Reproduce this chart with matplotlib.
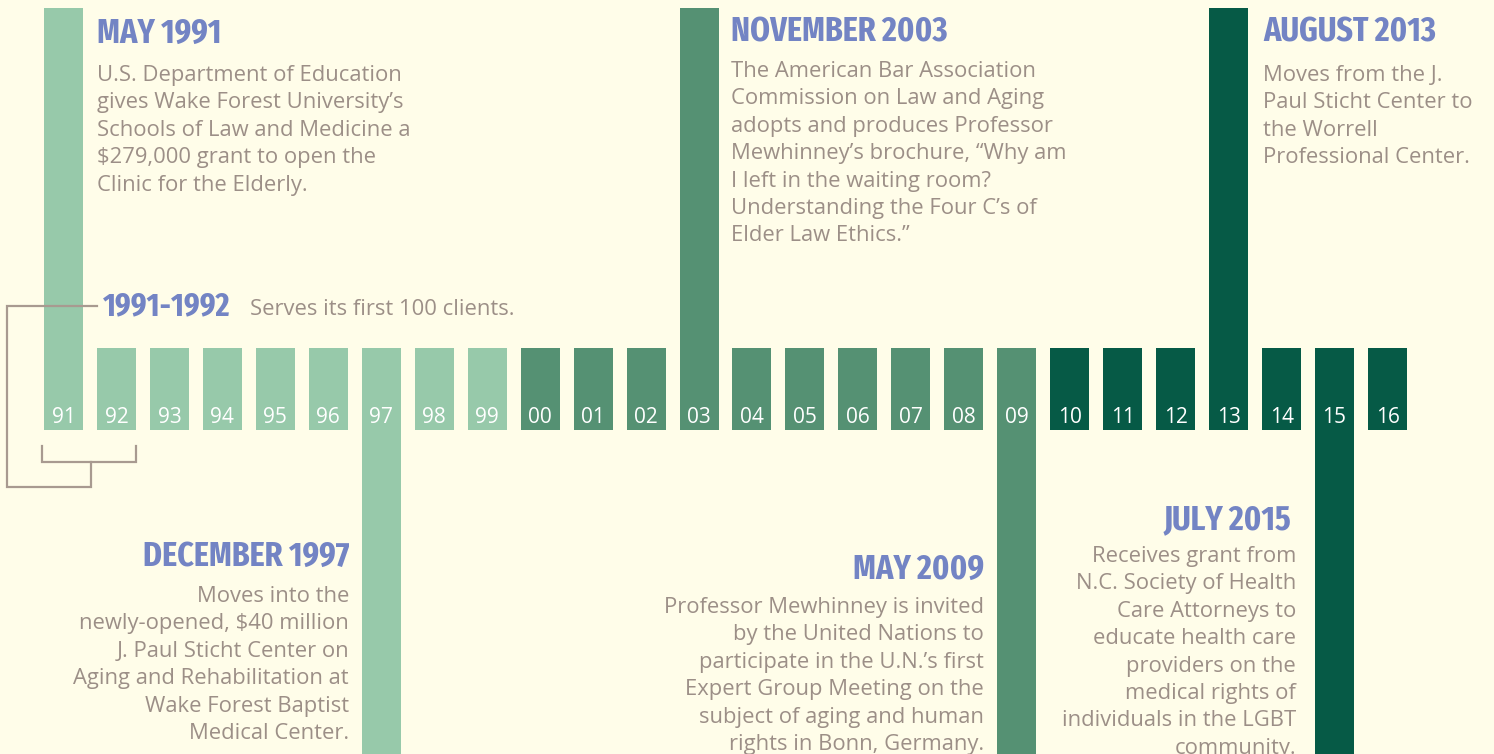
import matplotlib
matplotlib.use("Agg")
import matplotlib.pyplot as plt
from matplotlib import font_manager as fm

# years shown on the timeline
years = ["91", "92", "93", "94", "95", "96", "97", "98", "99",
         "00", "01", "02", "03", "04", "05", "06", "07", "08", "09",
         "10", "11", "12", "13", "14", "15", "16"]
# colour tier per year (0 = 90s, 1 = 00s, 2 = 10s)
tiers = [0] * 9 + [1] * 10 + [2] * 7
# bars that stretch up (+1) or down (-1) to an event
reach = [0] * 26
for yr in ["91", "03", "13"]:
    reach[years.index(yr)] = 1
for yr in ["97", "09", "15"]:
    reach[years.index(yr)] = -1

event_titles = ["MAY 1991", "NOVEMBER 2003", "AUGUST 2013",
                "DECEMBER 1997", "MAY 2009", "JULY 2015"]
event_texts = [
    ["U.S. Department of Education", "gives Wake Forest University\u2019s",
     "Schools of Law and Medicine a", "$279,000 grant to open the",
     "Clinic for the Elderly."],
    ["The American Bar Association", "Commission on Law and Aging",
     "adopts and produces Professor", "Mewhinney\u2019s brochure, \u201cWhy am",
     "I left in the waiting room?", "Understanding the Four C\u2019s of",
     "Elder Law Ethics.\u201d"],
    ["Moves from the J.", "Paul Sticht Center to", "the Worrell",
     "Professional Center."],
    ["Moves into the", "newly-opened, $40 million", "J. Paul Sticht Center on",
     "Aging and Rehabilitation at", "Wake Forest Baptist", "Medical Center."],
    ["Professor Mewhinney is invited", "by the United Nations to",
     "participate in the U.N.\u2019s first", "Expert Group Meeting on the",
     "subject of aging and human", "rights in Bonn, Germany."],
    ["Receives grant from", "N.C. Society of Health", "Care Attorneys to",
     "educate health care", "providers on the", "medical rights of",
     "individuals in the LGBT", "community."],
]
side_title = "1991-1992"
side_text = "Serves its first 100 clients."

# colours
bg = "#FFFDE9"
greens = ["#97C9AA", "#559173", "#065A46"]
title_col = "#7384C4"
text_col = "#9C8F87"
line_col = "#A89A90"


def narrowness(f):
    s = (str(f.stretch) + " " + f.name + " " + f.fname).lower()
    if "extra" in s and "condensed" in s or "extracondensed" in s or "ultra-condensed" in s:
        return 3
    if "semi" in s and "condensed" in s or "semicondensed" in s:
        return 1
    if "condensed" in s or "narrow" in s:
        return 2
    return 0


def weight_of(f):
    if isinstance(f.weight, int):
        return f.weight
    return 700 if "bold" in str(f.weight) else 400


# pick the narrowest bold-ish face for the headings
best = None
for f in fm.fontManager.ttflist:
    n = narrowness(f)
    w = weight_of(f)
    if n and 600 <= w <= 800 and "italic" not in str(f.style):
        key = (n, -abs(w - 700))
        if best is None or key > best[0]:
            best = (key, f.fname)
if best:
    title_font = fm.FontProperties(fname=best[1])
else:
    title_font = fm.FontProperties(family="Roboto", weight="bold")

names = {f.name for f in fm.fontManager.ttflist}
body_font = "Open Sans" if "Open Sans" in names else "DejaVu Sans"

W, H = 1494, 754
fig = plt.figure(figsize=(W / 100, H / 100), dpi=100)
fig.patch.set_facecolor(bg)
renderer = fig.canvas.get_renderer()

# bar axes: x in year slots, y in pixel rows (top = 0)
ax = fig.add_axes([0, 0, 1, 1])
ax.set_facecolor(bg)
slot = 52.96
ax.set_xlim(-63.5 / slot, (W - 63.5) / slot)
ax.set_ylim(H, 0)
ax.axis("off")

block_top, block_bot = 348, 430
for i, yr in enumerate(years):
    top = 8 if reach[i] == 1 else block_top
    bot = H + 10 if reach[i] == -1 else block_bot
    ax.bar(i, bot - top, bottom=top, width=39 / slot, color=greens[tiers[i]],
           linewidth=0)
    ax.text(i, 423, yr, ha="center", va="baseline", color="white",
            fontsize=15, family=body_font)

# overlay in pixel coordinates for text and connector lines
ov = fig.add_axes([0, 0, 1, 1])
ov.set_xlim(0, W)
ov.set_ylim(H, 0)
ov.axis("off")
ov.patch.set_alpha(0)

# heading size: fit the widths the headings take in the layout
target_w = [119, 204, 164, 201, 122, 123]
ratios = []
for title, tw in zip(event_titles, target_w):
    tp = title_font.copy()
    tp.set_size(30)
    t = ov.text(0, 0, title, fontproperties=tp)
    ratios.append(tw / t.get_window_extent(renderer).width)
    t.remove()
ratios.sort()
title_size = min(31, 30 * ratios[len(ratios) // 2] * 1.05)

# layout: (x, title baseline, first text baseline, alignment)
layout = [(97, 43, 81, "left"), (731, 41, 77, "left"),
          (1263, 41, 81, "left"), (349, 566, 602, "right"),
          (984, 579, 613, "right"), (1291, 529, 562, "right")]
step = 27.4
body_size = 15.8
for (x, ty, by, ha), title, lines in zip(layout, event_titles, event_texts):
    tp = title_font.copy()
    tp.set_size(title_size)
    ov.text(x, ty, title, ha=ha, va="baseline", color=title_col,
            fontproperties=tp)
    tx = x + 5 if title == "JULY 2015" else x
    for k, ln in enumerate(lines):
        ov.text(tx, by + k * step, ln, ha=ha, va="baseline", color=text_col,
                fontsize=body_size, family=body_font)

tp = title_font.copy()
tp.set_size(title_size * 0.95)
st = ov.text(103, 315, side_title, ha="left", va="baseline", color=title_col,
             fontproperties=tp)
bb = st.get_window_extent(renderer)
ov.text(max(250, bb.x1 + 10), 315, side_text, ha="left", va="baseline",
        color=text_col, fontsize=body_size, family=body_font)

# connector from 1991-1992 label to the bracket under 91/92
ov.plot([97, 7, 7, 91, 91], [305.5, 305.5, 487, 487, 462], color=line_col,
        lw=1.6, solid_joinstyle="miter")
ov.plot([42, 42, 136, 136], [446, 462, 462, 446], color=line_col,
        lw=1.6, solid_joinstyle="miter")

fig.savefig("out.png", dpi=100, facecolor=bg)
